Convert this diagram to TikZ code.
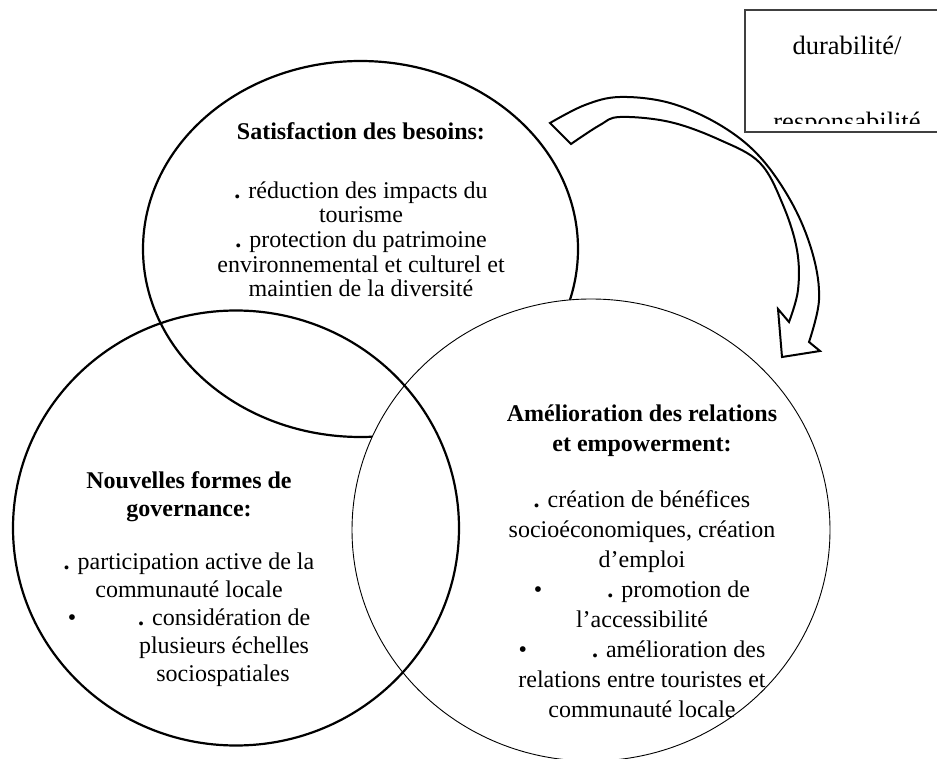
\documentclass[tikz,border=0pt]{standalone}
\usepackage{fontspec}
\setmainfont{Liberation Serif}
\begin{document}
\begin{tikzpicture}[x=1pt,y=-1pt,
  thickring/.style={line width=2.2pt},
  thinring/.style={line width=0.9pt, fill=white},
  blockarrow/.style={line width=2pt, line join=miter},
  boxline/.style={line width=1.2pt, draw=black!75},
  blocktext/.style={align=center, anchor=base, inner sep=0pt},
  boxtext/.style={anchor=base, inner sep=0pt, font=\fontsize{26.5}{30}\selectfont}]
\useasboundingbox (0,0) rectangle (937,759);
\clip (0,0) rectangle (937,759);

% label box in the upper right corner, running off the right edge,
% its second word cut by the frame
\draw[boxline] (960,10) -- (745,10) -- (745,132) -- (960,132);
\begin{scope}
  \clip (745,10) rectangle (937,124);
  \node[boxtext] (durabilite) at (847,55) {durabilité/};
  \node[boxtext] (responsabilite) at (847,131) {responsabilité};
\end{scope}

% curved block arrow
\draw[blockarrow]
  plot[smooth, tension=0.6] coordinates {(550,123) (585,105) (620,97) (670,103) (720,125) (760,157) (793,205) (813,255) (819,300) (809,342)}
  -- (820,351) -- (782,357) -- (778,309)
  -- plot[smooth, tension=0.6] coordinates {(789,322) (798,290) (797,250) (783,205) (760,163) (720,140) (670,122) (620,117) (600,125) (571,144)}
  -- cycle;

% the three rings
\draw[thickring] (360.5,249) ellipse [x radius=217.5pt, y radius=188pt];
\draw[thinring] (591,530) ellipse [x radius=239pt, y radius=231pt];
\draw[thickring] (236,528) ellipse [x radius=223pt, y radius=217.5pt];

% ring texts (each anchored at the baseline of its last line)
\node[blocktext, font=\fontsize{24}{24.7}\selectfont] (besoins) at (361,297)
  {\textbf{Satisfaction des besoins:}\\[34.3pt]
   \textbf{.} réduction des impacts du\\
   tourisme\\
   \textbf{.} protection du patrimoine\\
   environnemental et culturel et\\
   maintien de la diversité};

\node[blocktext, font=\fontsize{24}{30}\selectfont] (relations) at (642,717)
  {\textbf{Amélioration des relations}\\
   \textbf{et empowerment:}\\[26pt]
   \textbf{.} création de bénéfices\\
   socioéconomiques, création\\
   d’emploi\\
   •\hspace{65pt}\textbf{.} promotion de\\
   l’accessibilité\\
   •\hspace{65pt}\textbf{.} amélioration des\\
   relations entre touristes et\\
   communauté locale};

\node[blocktext, font=\fontsize{24}{28}\selectfont] (gouvernance) at (189,681)
  {\textbf{Nouvelles formes de}\\
   \textbf{governance:}\\[25pt]
   \textbf{.} participation active de la\\
   communauté locale\\
   •\hspace{62pt}\textbf{.} considération de\\
   \hspace*{70pt}plusieurs échelles\\
   \hspace*{68pt}sociospatiales};
\end{tikzpicture}
\end{document}
